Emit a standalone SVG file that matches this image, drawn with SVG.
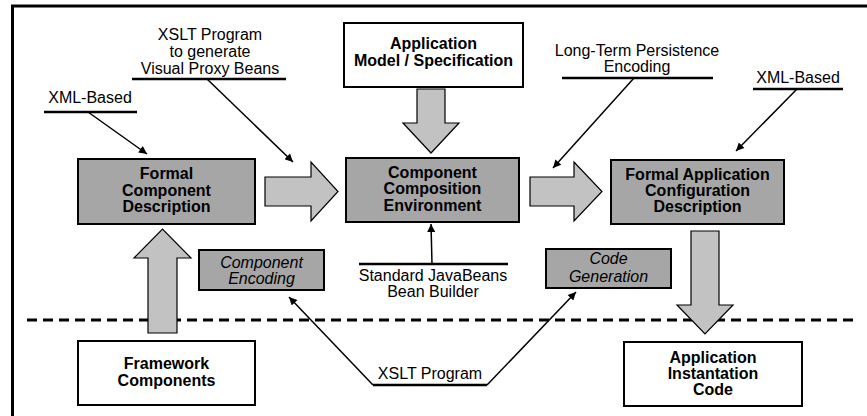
<svg xmlns="http://www.w3.org/2000/svg" width="867" height="416" viewBox="0 0 867 416">
<defs>
<marker id="ah" viewBox="0 0 10 10" refX="10" refY="5" markerWidth="10" markerHeight="8" markerUnits="userSpaceOnUse" orient="auto">
<path d="M0,0 L10,5 L0,10 z" fill="#000"/>
</marker>
</defs>
<style>
text{font-family:"Liberation Sans",Arial,sans-serif;font-size:16px;fill:#000;text-anchor:middle}
.b{font-weight:bold}
.i{font-style:italic}
.box{fill:#a6a6a6;stroke:#000;stroke-width:2}
.wbox{fill:#fff;stroke:#000;stroke-width:2}
.blk{fill:#c2c2c2;stroke:#000;stroke-width:1.2}
.ln{stroke:#000;stroke-width:1.5;fill:none}
.ul{stroke:#000;stroke-width:2.5;fill:none}
</style>
<rect width="867" height="416" fill="#fff"/>
<path d="M12.5,416 V6 H867" fill="none" stroke="#000" stroke-width="3"/>
<line x1="27" y1="320" x2="856" y2="320" stroke="#000" stroke-width="3" stroke-dasharray="10 6"/>

<g id="connectors">
<polygon class="blk" points="265,177 311,177 311,162 338,191.5 311,221 311,206 265,206"/>
<polygon class="blk" points="530,177 574,177 574,162 602,191.5 574,221 574,206 530,206"/>
<polygon class="blk" points="417,89 445,89 445,123 459,123 431,153 403,123 417,123"/>
<polygon class="blk" points="148,333 177,333 177,258 191,258 162.5,229 134,258 148,258"/>
<polygon class="blk" points="691,231 719,231 719,305 733,305 705,334 677,305 691,305"/>
<line class="ul" x1="44" y1="112" x2="137" y2="112"/>
<line class="ln" x1="88" y1="112" x2="147" y2="154" marker-end="url(#ah)"/>
<line class="ul" x1="132" y1="79" x2="286" y2="79"/>
<line class="ln" x1="207" y1="79" x2="293" y2="162" marker-end="url(#ah)"/>
<line class="ul" x1="562" y1="78" x2="713" y2="78"/>
<line class="ln" x1="634" y1="78" x2="553" y2="168" marker-end="url(#ah)"/>
<line class="ul" x1="753" y1="89" x2="843" y2="89"/>
<line class="ln" x1="797" y1="89" x2="736" y2="151" marker-end="url(#ah)"/>
<line class="ul" x1="359" y1="264" x2="508" y2="264"/>
<line class="ln" x1="432" y1="264" x2="431" y2="224" marker-end="url(#ah)"/>
<line class="ul" x1="373" y1="385" x2="487" y2="385"/>
<line class="ln" x1="373" y1="385" x2="289" y2="297" marker-end="url(#ah)"/>
<line class="ln" x1="487" y1="385" x2="576" y2="292" marker-end="url(#ah)"/>
</g>

<g id="lbl-xml-left"><text x="90" y="103">XML-Based</text></g>
<g id="lbl-xslt-top"><text x="210" y="40">XSLT Program</text><text x="210" y="57">to generate</text><text x="210" y="74">Visual Proxy Beans</text></g>
<g id="lbl-ltp"><text x="637" y="56">Long-Term Persistence</text><text x="637" y="72">Encoding</text></g>
<g id="lbl-xml-right"><text x="798" y="83">XML-Based</text></g>
<g id="lbl-javabeans"><text x="433" y="281">Standard JavaBeans</text><text x="433" y="297">Bean Builder</text></g>
<g id="lbl-xslt-bottom"><text x="430" y="379">XSLT Program</text></g>

<g id="app-model">
<rect class="wbox" x="344" y="23" width="179" height="64"/>
<text class="b" x="433.5" y="49">Application</text>
<text class="b" x="433.5" y="66">Model / Specification</text>
</g>
<g id="formal-component">
<rect class="box" x="78" y="159" width="177" height="65"/>
<text class="b" x="166.5" y="179">Formal</text>
<text class="b" x="166.5" y="196">Component</text>
<text class="b" x="166.5" y="212">Description</text>
</g>
<g id="composition-env">
<rect class="box" x="346" y="158" width="173" height="64"/>
<text class="b" x="432.5" y="178">Component</text>
<text class="b" x="432.5" y="194">Composition</text>
<text class="b" x="432.5" y="211">Environment</text>
</g>
<g id="formal-app-config">
<rect class="box" x="611" y="160" width="173" height="64"/>
<text class="b" x="697.5" y="180">Formal Application</text>
<text class="b" x="697.5" y="196">Configuration</text>
<text class="b" x="697.5" y="212">Description</text>
</g>
<g id="component-encoding">
<rect class="box" x="199" y="250" width="125" height="40"/>
<text class="i" x="261.5" y="268">Component</text>
<text class="i" x="261.5" y="284">Encoding</text>
</g>
<g id="code-generation">
<rect class="box" x="546" y="249" width="125" height="39"/>
<text class="i" x="608.5" y="264">Code</text>
<text class="i" x="608.5" y="282">Generation</text>
</g>
<g id="framework-components">
<rect class="wbox" x="78" y="341" width="177" height="64"/>
<text class="b" x="166.5" y="369">Framework</text>
<text class="b" x="166.5" y="386">Components</text>
</g>
<g id="app-instantiation">
<rect class="wbox" x="624" y="342" width="178" height="64"/>
<text class="b" x="713" y="363">Application</text>
<text class="b" x="713" y="379">Instantation</text>
<text class="b" x="713" y="395">Code</text>
</g>
</svg>
